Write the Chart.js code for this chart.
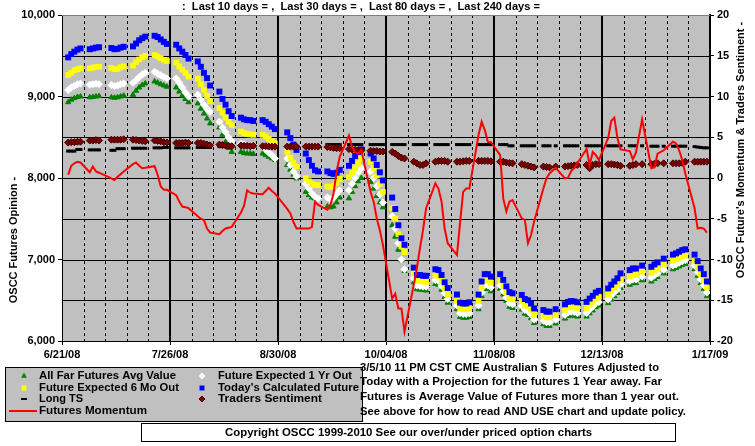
<!DOCTYPE html>
<html>
<head>
<meta charset="utf-8">
<script src="https://cdn.jsdelivr.net/npm/chart.js@4.4.0/dist/chart.umd.min.js"></script>
<style>
  html, body { margin: 0; padding: 0; background: #fff; }
  #wrap { width: 755px; height: 446px; position: relative; }
</style>
</head>
<body>
<div id="wrap"><canvas id="chart" width="755" height="446"></canvas></div>
<script>
// trading days, counted from 6/21/08 (a Saturday)
const days = [
  2, 3, 4, 5, 6,
  9, 10, 11, 12,
  16, 17, 18, 19, 20,
  23, 24, 25, 26, 27,
  30, 31, 32, 33, 34,
  37, 38, 39, 40, 41,
  44, 45, 46, 47, 48,
  51, 52, 53, 54, 55,
  58, 59, 60, 61, 62,
  65, 66, 67, 68, 69,
  73, 74, 75, 76,
  79, 80, 81, 82, 83,
  86, 87, 88, 89, 90,
  93, 94, 95, 96, 97,
  100, 101, 102, 103, 104,
  107, 108, 109, 110, 111,
  114, 115, 116, 117, 118,
  121, 122, 123, 124, 125,
  128, 129, 130, 131, 132,
  135, 136, 137, 138, 139,
  142, 143, 144, 145, 146,
  149, 150, 151, 152, 153,
  156, 157, 158, 160,
  163, 164, 165, 166, 167,
  170, 171, 172, 173, 174,
  177, 178, 179, 180, 181,
  184, 185, 186, 188,
  191, 192, 193, 195,
  198, 199, 200, 201, 202,
  205, 206, 207, 208, 209
];

const xTickLabels = ['6/21/08', '7/26/08', '8/30/08', '10/04/08', '11/08/08', '12/13/08', '1/17/09'];

// Today's Calculated Future (left axis)
const todayFuture = [
  9480, 9520, 9550, 9575, 9590,
  9580, 9590, 9600, 9605,
  9595, 9580, 9585, 9600, 9610,
  9615, 9650, 9690, 9715, 9735,
  9745, 9730, 9700, 9670, 9645,
  9635, 9590, 9550, 9510, 9465,
  9430, 9365, 9290, 9225, 9135,
  9060, 8970, 8900, 8820, 8760,
  8740, 8720, 8710, 8710, 8700,
  8710, 8690, 8660, 8630, 8600,
  8560, 8490, 8410, 8345,
  8300, 8220, 8150, 8095, 8080,
  8080, 8060, 8050, 8065, 8100,
  8150, 8210, 8270, 8320, 8350,
  8300, 8240, 8160, 8070, 7970,
  7760, 7620, 7420, 7260, 7180,
  6900, 6810, 6810, 6800, 6800,
  6880, 6870, 6810, 6720, 6650,
  6570, 6470, 6460, 6460, 6475,
  6570, 6730, 6820, 6820, 6790,
  6820, 6750, 6670, 6600, 6585,
  6565, 6515, 6500, 6460, 6400,
  6380, 6360, 6360, 6390,
  6450, 6480, 6490, 6485, 6475,
  6480, 6520, 6555, 6595, 6615,
  6645, 6690, 6730, 6770, 6830,
  6870, 6890, 6890, 6925,
  6910, 6940, 6965, 7010,
  7060, 7075, 7095, 7115, 7125,
  7060, 6980, 6890, 6820, 6730
];

// Future Expected 6 Mo Out
const sixMoOut = [
  9265, 9290, 9320, 9335, 9345,
  9345, 9355, 9360, 9365,
  9350, 9335, 9340, 9360, 9370,
  9380, 9420, 9455, 9480, 9500,
  9510, 9490, 9470, 9450, 9435,
  9415, 9370, 9330, 9290, 9245,
  9220, 9150, 9080, 9010, 8940,
  8860, 8800, 8740, 8690, 8650,
  8570, 8550, 8540, 8535, 8530,
  8530, 8510, 8480, 8450, 8425,
  8320, 8250, 8190, 8140,
  8000, 7960, 7930, 7915, 7910,
  7895, 7890, 7900, 7940, 7990,
  8010, 8060, 8120, 8180, 8240,
  8200, 8120, 8030, 7930, 7830,
  7630, 7500, 7310, 7160, 7090,
  6830, 6740, 6735, 6730, 6725,
  6805, 6795, 6735, 6645, 6575,
  6495, 6400, 6390, 6390, 6400,
  6495, 6655, 6745, 6745, 6715,
  6745, 6675, 6595, 6525, 6510,
  6490, 6440, 6425, 6385, 6325,
  6310, 6290, 6290, 6320,
  6380, 6410, 6420, 6415, 6405,
  6405, 6445, 6480, 6520, 6540,
  6570, 6615, 6655, 6695, 6755,
  6795, 6815, 6815, 6850,
  6835, 6865, 6890, 6935,
  6985, 7000, 7020, 7040, 7050,
  6985, 6905, 6815, 6745, 6655
];

// Future Expected 1 Yr Out
const oneYrOut = [
  9080, 9110, 9130, 9150, 9160,
  9145, 9150, 9155, 9150,
  9140, 9130, 9135, 9150, 9160,
  9170, 9200, 9240, 9270, 9290,
  9300, 9280, 9260, 9240, 9220,
  9220, 9170, 9110, 9050, 9000,
  9020, 8960, 8900, 8850, 8810,
  8690, 8620, 8560, 8500, 8450,
  8420, 8410, 8400, 8395, 8385,
  8385, 8350, 8310, 8280, 8240,
  8240, 8160, 8080, 8020,
  7930, 7870, 7810, 7770, 7750,
  7760, 7740, 7760, 7800, 7850,
  7850, 7930, 8000, 8070, 8120,
  8080, 8000, 7900, 7800, 7700,
  7530, 7380, 7200, 7000, 6880,
  6770, 6680, 6675, 6670, 6665,
  6745, 6735, 6675, 6585, 6515,
  6435, 6340, 6330, 6330, 6340,
  6435, 6595, 6685, 6685, 6655,
  6685, 6615, 6535, 6465, 6450,
  6430, 6380, 6365, 6325, 6265,
  6250, 6230, 6230, 6260,
  6320, 6350, 6360, 6355, 6345,
  6345, 6385, 6420, 6460, 6480,
  6510, 6555, 6595, 6635, 6695,
  6735, 6755, 6755, 6790,
  6775, 6805, 6830, 6875,
  6925, 6940, 6960, 6980, 6990,
  6925, 6845, 6755, 6685, 6595
];

// All Far Futures Avg Value
const farFuturesAvg = [
  8930, 8960, 8980, 8995, 9000,
  8990, 8995, 9000, 9005,
  8990, 8985, 8990, 9000, 9010,
  9020, 9070, 9110, 9140, 9160,
  9185, 9170, 9150, 9135, 9120,
  9110, 9060, 9010, 8970, 8930,
  8915, 8850, 8790, 8730, 8670,
  8620, 8530, 8440, 8370, 8320,
  8320, 8305, 8300, 8300, 8295,
  8300, 8280, 8260, 8240, 8220,
  8160, 8100, 8040, 7995,
  7830, 7790, 7760, 7750, 7750,
  7650, 7640, 7650, 7700, 7760,
  7750, 7830, 7900, 7960, 8000,
  7950, 7870, 7780, 7700, 7640,
  7420, 7280, 7120, 6990, 6860,
  6720, 6635, 6630, 6625, 6620,
  6700, 6690, 6630, 6540, 6470,
  6390, 6295, 6285, 6285, 6295,
  6390, 6550, 6640, 6640, 6610,
  6640, 6570, 6490, 6420, 6405,
  6385, 6335, 6320, 6280, 6220,
  6205, 6185, 6185, 6215,
  6275, 6305, 6315, 6310, 6300,
  6300, 6340, 6375, 6415, 6435,
  6465, 6510, 6550, 6590, 6650,
  6690, 6710, 6710, 6745,
  6730, 6760, 6785, 6830,
  6880, 6895, 6915, 6935, 6945,
  6880, 6800, 6710, 6640, 6550
];

// Long TS (right axis)
const longTS = [
  3.3, 3.3, 3.3, 3.5, 3.5,
  3.45, 3.45, 3.45, 3.45,
  3.4, 3.4, 3.6, 3.6, 3.6,
  3.65, 3.65, 3.65, 3.65, 3.65,
  3.7, 3.7, 3.7, 3.75, 3.75,
  3.7, 3.7, 3.7, 3.7, 3.7,
  3.75, 3.75, 3.75, 3.75, 3.75,
  3.85, 3.85, 3.85, 3.85, 3.85,
  3.85, 3.85, 3.85, 3.85, 3.85,
  3.85, 3.85, 3.85, 3.85, 3.85,
  3.85, 3.85, 3.85, 3.85,
  3.85, 3.85, 3.85, 3.85, 3.85,
  4.1, 4.1, 4.1, 4.1, 4.1,
  4.1, 4.1, 4.1, 4.1, 4.1,
  4.1, 4.1, 4.1, 4.1, 4.1,
  4.1, 4.1, 4.1, 4.1, 4.1,
  4.1, 4.1, 4.1, 4.1, 4.1,
  4.1, 4.1, 4.1, 4.1, 4.1,
  4.1, 4.1, 4.1, 4.1, 4.1,
  4.1, 4.1, 4.1, 4.1, 4.1,
  4.1, 4.1, 4.1, 3.95, 3.95,
  3.95, 3.95, 3.95, 3.95, 3.95,
  3.95, 3.95, 3.95, 3.95,
  3.95, 3.95, 3.95, 3.95, 3.95,
  3.95, 3.95, 3.95, 3.95, 3.95,
  3.95, 3.95, 3.95, 3.95, 3.95,
  3.95, 3.95, 3.95, 3.95,
  3.9, 3.9, 3.9, 3.9,
  3.9, 3.9, 3.9, 3.9, 3.9,
  3.85, 3.8, 3.75, 3.7, 3.7
];

// Traders Sentiment (right axis)
const tradersSentiment = [
  4.35, 4.4, 4.4, 4.45, 4.45,
  4.6, 4.6, 4.65, 4.6,
  4.7, 4.7, 4.7, 4.7, 4.75,
  4.7, 4.65, 4.6, 4.55, 4.5,
  4.6, 4.55, 4.5, 4.4, 4.35,
  4.3, 4.3, 4.3, 4.35, 4.3,
  4.3, 4.3, 4.2, 4.1, 4.0,
  4.1, 4.05, 4.0, 3.95, 3.9,
  4.0, 3.95, 3.95, 3.9, 3.95,
  3.9, 3.9, 3.85, 3.85, 3.85,
  3.85, 3.85, 3.85, 3.85,
  3.85, 3.85, 3.85, 3.85, 3.85,
  3.8, 3.75, 3.7, 3.65, 3.65,
  3.55, 3.5, 3.45, 3.4, 3.4,
  3.35, 3.3, 3.3, 3.25, 3.25,
  3.2, 3.0, 2.7, 2.5, 2.4,
  2.0, 1.8, 1.6, 1.6, 1.8,
  2.0, 2.1, 2.1, 2.1, 2.0,
  2.0, 2.0, 2.05, 2.1, 2.1,
  2.1, 2.1, 2.1, 2.1, 2.05,
  2.0, 2.0, 1.9, 1.85, 1.8,
  1.7, 1.6, 1.5, 1.4, 1.3,
  1.4, 1.35, 1.3, 1.4,
  1.4, 1.45, 1.5, 1.55, 1.6,
  1.6, 1.2, 1.6, 1.7, 1.7,
  1.7, 1.7, 1.65, 1.6, 1.5,
  1.5, 1.6, 1.7, 1.7,
  1.7, 1.75, 1.8, 1.8,
  1.8, 1.8, 1.8, 1.85, 2.0,
  2.0, 2.0, 2.0, 2.0, 2.0
];

// Futures Momentum (right axis)
const momentum = [
  0.4, 1.5, 1.8, 2.0, 1.9,
  0.7, 1.4, 0.8, 0.65,
  -0.05, -0.25, 0.15, 0.45, 0.8,
  1.7, 1.9, 1.5, 1.2, 1.25,
  1.45, 0.4, -1.05, -1.45, -1.45,
  -2.1, -2.9, -3.5, -3.6, -3.7,
  -4.7, -5.0, -5.15, -6.2, -6.7,
  -6.9, -6.5, -6.2, -6.1, -6.0,
  -4.25, -3.4, -1.5, -1.8, -1.9,
  -2.0, -1.6, -1.2, -1.6, -1.9,
  -3.8, -4.35, -5.4, -6.2,
  -6.2, -6.2, -6.0, -2.9, -3.3,
  -3.9, -3.3, -1.9, 0.8, 2.6,
  5.2, 3.8, 3.15, 3.0, 3.4,
  -1.7, -2.9, -4.95, -6.4, -8.2,
  -14.8, -14.2, -16.0, -16.0, -18.85,
  -13.1, -11.1, -8.6, -6.4, -3.7,
  -0.65, -1.3, -2.9, -6.2, -8.0,
  -9.45, -5.5, -1.7, -1.3, -1.3,
  5.3, 6.9, 5.9, 4.45, 4.4,
  2.8, -2.5, -4.1, -2.9, -2.7,
  -4.95, -5.15, -8.0, -7.0, -5.35,
  -1.3, -0.05, 0.55, 1.25,
  -0.05, 0.05, 0.85, 1.2, 1.8,
  3.55, 1.6, 3.2, 2.8, 2.2,
  4.9, 7.0, 7.4, 4.9, 3.5,
  3.3, 2.3, 3.1, 7.2,
  1.2, 1.3, 3.0, 3.4,
  4.45, 4.25, 3.4, 2.2, 0.55,
  -3.7, -6.2, -6.1, -6.2, -6.7
];

const FONT = '"Liberation Sans", Arial, sans-serif';

function pts(vals) {
  return days.map((d, i) => ({ x: d, y: vals[i] }));
}

// the old bitmap font runs a little wider, so stretch each string to its width
function fitText(ctx, str, x, y, w) {
  const m = ctx.measureText(str).width;
  ctx.save();
  ctx.translate(x, y);
  ctx.scale(w / m, 1);
  ctx.fillText(str, 0, 0);
  ctx.restore();
}

// background, grid and all the surrounding text
const ownDraw = {
  id: 'ownDraw',
  beforeDraw(chart) {
    const { ctx, chartArea: a } = chart;
    ctx.save();
    ctx.fillStyle = '#fff';
    ctx.fillRect(0, 0, chart.width, chart.height);
    ctx.fillStyle = '#C0C0C0';
    ctx.fillRect(a.left, a.top, a.right - a.left, a.bottom - a.top);
    ctx.restore();
  },
  beforeDatasetsDraw(chart) {
    const { ctx, chartArea: a, scales } = chart;
    ctx.save();
    ctx.strokeStyle = '#000';
    ctx.lineWidth = 1;
    for (let v = 6500; v < 10000; v += 500) {
      const y = Math.round(scales.y.getPixelForValue(v)) + 0.5;
      ctx.beginPath(); ctx.moveTo(a.left, y); ctx.lineTo(a.right, y); ctx.stroke();
    }
    for (let d = 7; d < 210; d += 7) {
      const x = Math.round(scales.x.getPixelForValue(d));
      ctx.beginPath();
      if (d % 35 === 0) {
        ctx.lineWidth = 2;
        ctx.setLineDash([]);
        ctx.moveTo(x, a.top); ctx.lineTo(x, a.bottom);
      } else {
        ctx.lineWidth = 1;
        ctx.setLineDash([3, 3]);
        ctx.moveTo(x + 0.5, a.top); ctx.lineTo(x + 0.5, a.bottom);
      }
      ctx.stroke();
    }
    ctx.setLineDash([]);
    ctx.strokeStyle = '#808080';
    ctx.lineWidth = 1;
    ctx.beginPath(); ctx.moveTo(a.left, a.top + 0.5); ctx.lineTo(a.right, a.top + 0.5); ctx.stroke();
    ctx.restore();
  },
  afterDraw(chart) {
    const { ctx } = chart;
    const h = Chart.helpers;
    ctx.save();
    ctx.fillStyle = '#000';
    ctx.font = 'bold 11px ' + FONT;
    ctx.textBaseline = 'middle';

    fitText(ctx, ':  Last 10 days = ,  Last 30 days = ,  Last 80 days = ,  Last 240 days =', 182, 7, 358);

    // axis titles
    ctx.save();
    ctx.translate(14, 240);
    ctx.rotate(-Math.PI / 2);
    ctx.textAlign = 'center';
    ctx.fillText('OSCC Futures Opinion -', 0, 0);
    ctx.restore();
    ctx.save();
    ctx.translate(741, 150);
    ctx.rotate(-Math.PI / 2);
    ctx.textAlign = 'center';
    ctx.fillText("OSCC Future's Momentum & Traders Sentiment -", 0, 0);
    ctx.restore();

    // legend box
    ctx.fillStyle = '#C0C0C0';
    ctx.fillRect(5, 367, 357, 54);
    ctx.strokeStyle = '#000';
    ctx.lineWidth = 1;
    ctx.strokeRect(5.5, 367.5, 357, 54);

    const mark = (style, fill, stroke, r, bw, x, y) => {
      ctx.fillStyle = fill;
      ctx.strokeStyle = stroke;
      ctx.lineWidth = bw;
      h.drawPoint(ctx, { pointStyle: style, radius: r, rotation: 0, borderWidth: bw }, x, y);
    };
    mark('triangle', '#008000', '#008000', 2.5, 1, 24, 376);
    mark('rect', '#FFFF00', '#FFFF00', 3.5, 0, 24, 388);
    mark('line', '#000', '#000', 3, 2, 24, 399);
    mark('rectRot', '#fff', '#fff', 3.5, 0, 202, 376);
    mark('rect', '#0000FF', '#0000FF', 3.5, 0, 202, 388);
    mark('rectRot', '#800000', '#400000', 3, 1, 202, 399);
    ctx.strokeStyle = '#FF0000';
    ctx.lineWidth = 2;
    ctx.beginPath(); ctx.moveTo(9, 411); ctx.lineTo(37, 411); ctx.stroke();

    ctx.fillStyle = '#000';
    fitText(ctx, 'All Far Futures Avg Value', 39, 376, 137);
    fitText(ctx, 'Future Expected 6 Mo Out', 39, 388, 140);
    fitText(ctx, 'Long TS', 39, 399, 44);
    fitText(ctx, 'Futures Momentum', 39, 411, 108);
    fitText(ctx, 'Future Expected 1 Yr Out', 218, 376, 134);
    fitText(ctx, "Today's Calculated Future", 218, 388, 141);
    fitText(ctx, 'Traders Sentiment', 218, 399, 104);

    // notes on the right
    fitText(ctx, '3/5/10 11 PM CST CME Australian $  Futures Adjusted to', 360, 368, 299);
    fitText(ctx, 'Today with a Projection for the futures 1 Year away. Far', 360, 382, 302);
    fitText(ctx, 'Futures is Average Value of Futures more than 1 year out.', 360, 397, 319);
    fitText(ctx, 'See above for how to read AND USE chart and update policy.', 360, 412, 326);

    // copyright box
    ctx.fillStyle = '#fff';
    ctx.fillRect(141, 423, 535, 18);
    ctx.strokeStyle = '#000';
    ctx.lineWidth = 1;
    ctx.strokeRect(141.5, 423.5, 534, 18);
    ctx.fillStyle = '#000';
    fitText(ctx, 'Copyright OSCC 1999-2010 See our over/under priced option charts', 225, 433, 367);
    ctx.restore();
  }
};

const tickFont = { family: FONT, size: 11, weight: 'bold' };

new Chart(document.getElementById('chart'), {
  type: 'scatter',
  data: {
    datasets: [
      {
        label: 'Futures Momentum', data: pts(momentum), yAxisID: 'y2', order: 0,
        showLine: true, borderColor: '#FF0000', borderWidth: 2, pointRadius: 0, tension: 0
      },
      {
        label: 'Traders Sentiment', data: pts(tradersSentiment), yAxisID: 'y2', order: 1,
        pointStyle: 'rectRot', pointRadius: 3.5, backgroundColor: '#800000', borderColor: '#400000', borderWidth: 1
      },
      {
        label: 'Long TS', data: pts(longTS), yAxisID: 'y2', order: 2,
        pointStyle: 'line', pointRadius: 2, borderColor: '#000', backgroundColor: '#000', borderWidth: 3
      },
      {
        label: "Today's Calculated Future", data: pts(todayFuture), yAxisID: 'y', order: 3,
        pointStyle: 'rect', pointRadius: 4.2, backgroundColor: '#0000FF', borderWidth: 0
      },
      {
        label: 'Future Expected 6 Mo Out', data: pts(sixMoOut), yAxisID: 'y', order: 4,
        pointStyle: 'rect', pointRadius: 4, backgroundColor: '#FFFF00', borderWidth: 0
      },
      {
        label: 'Future Expected 1 Yr Out', data: pts(oneYrOut), yAxisID: 'y', order: 5,
        pointStyle: 'rectRot', pointRadius: 4, backgroundColor: '#FFFFFF', borderWidth: 0
      },
      {
        label: 'All Far Futures Avg Value', data: pts(farFuturesAvg), yAxisID: 'y', order: 6,
        pointStyle: 'triangle', pointRadius: 3, backgroundColor: '#008000', borderColor: '#008000', borderWidth: 1
      }
    ]
  },
  options: {
    responsive: false,
    animation: false,
    layout: { padding: { left: 0, right: 0, top: 15, bottom: 83 } },
    plugins: { legend: { display: false }, tooltip: { enabled: false }, title: { display: false } },
    scales: {
      x: {
        type: 'linear', min: 0, max: 210,
        afterFit: s => { s.height = 22; },
        ticks: {
          stepSize: 35, color: '#000', font: tickFont, padding: 3, maxRotation: 0,
          callback: (v) => xTickLabels[Math.round(v / 35)]
        },
        grid: { drawOnChartArea: false, drawTicks: true, tickLength: 4, color: '#000' },
        border: { display: true, color: '#000', width: 1 }
      },
      y: {
        position: 'left', min: 6000, max: 10000,
        afterFit: s => { s.width = 62; },
        ticks: { stepSize: 1000, color: '#000', font: tickFont, padding: 3 },
        grid: { drawOnChartArea: false, drawTicks: true, tickLength: 4, color: '#000' },
        border: { display: true, color: '#000', width: 1 }
      },
      y2: {
        position: 'right', min: -20, max: 20,
        afterFit: s => { s.width = 45; },
        ticks: { stepSize: 5, color: '#000', font: tickFont, padding: 3 },
        grid: { drawOnChartArea: false, drawTicks: true, tickLength: 4, color: '#000' },
        border: { display: true, color: '#000', width: 2 }
      }
    }
  },
  plugins: [ownDraw]
});
</script>
</body>
</html>
